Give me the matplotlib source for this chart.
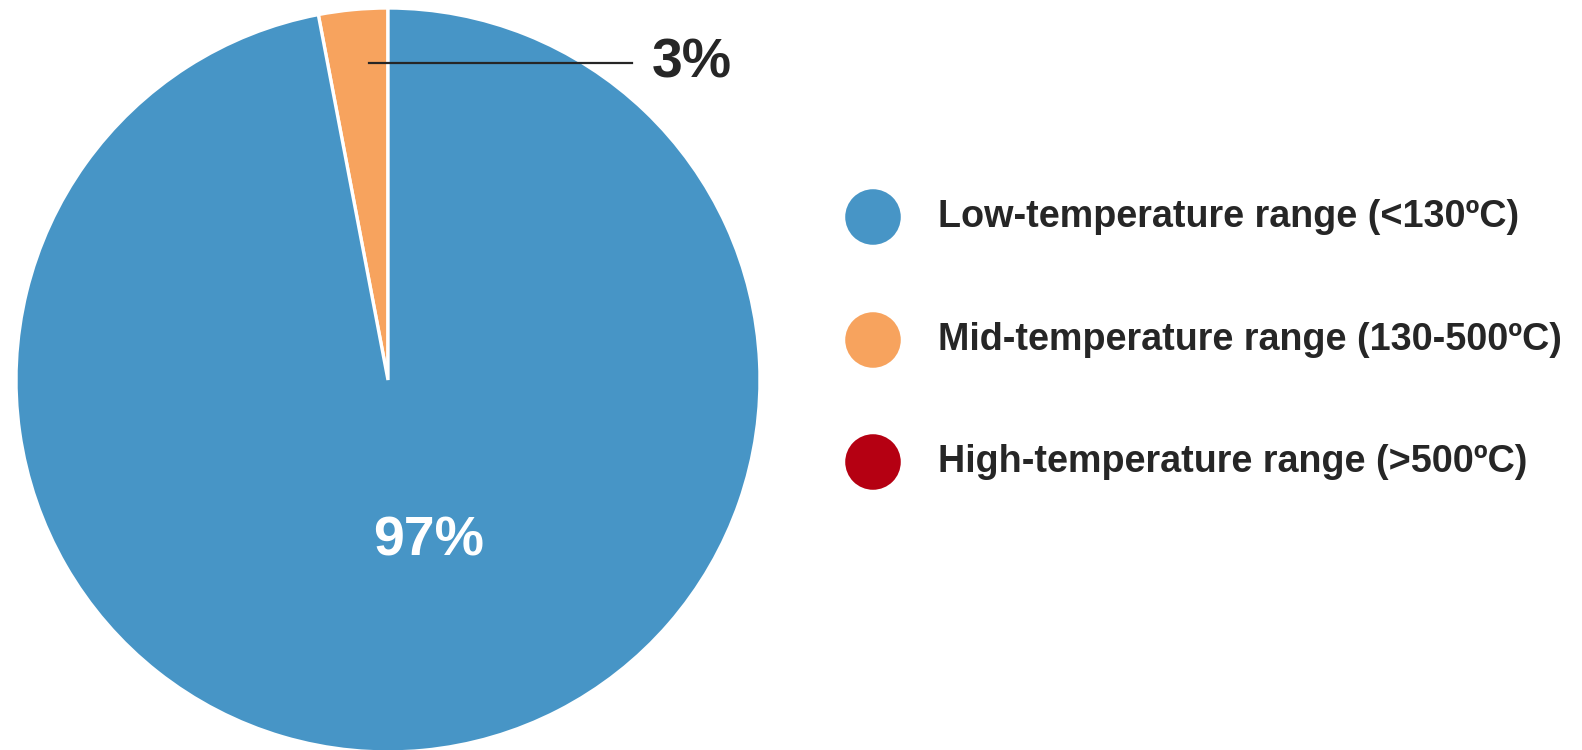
import matplotlib
import matplotlib.pyplot as plt
import numpy as np

matplotlib.use('agg')

# data
categories = ['Low-temperature range (<130ºC)',
              'Mid-temperature range (130-500ºC)',
              'High-temperature range (>500ºC)']
shares = [97, 3, 0]
colors = ['#4795c6', '#f7a35e', '#b50012']
pie_order = [1, 0]  # mid slice first, counterclockwise from the top

TEXT = '#262626'
plt.rcParams['font.family'] = ['Liberation Sans', 'DejaVu Sans']

W, H = 1582, 750
fig = plt.figure(figsize=(W / 100, H / 100), dpi=100)

# pie axes: centre (388, 380) px, radius 372 px
cx, cy, r = 388, 380, 372
ax = fig.add_axes([(cx - r) / W, (H - cy - r) / H, 2 * r / W, 2 * r / H])

vals = [shares[i] for i in pie_order]
cols = [colors[i] for i in pie_order]
wedges, _ = ax.pie(vals, colors=cols, startangle=90, counterclock=True,
                   radius=1, center=(0, 0),
                   wedgeprops=dict(edgecolor='white', linewidth=2.4))
ax.set_xlim(-1, 1)
ax.set_ylim(-1, 1)
ax.set_aspect('equal')
ax.axis('off')

# small slice label with leader line
y0 = 0.852
x0 = -0.051
ax.plot([x0, 0.656], [y0, y0], color=TEXT, lw=1.6, clip_on=False)
ax.text(0.71, y0, f'{shares[1]}%', ha='left', va='center', fontsize=40,
        fontweight='bold', color=TEXT)

# big slice label
ax.text(0.11, -0.435, f'{shares[0]}%', ha='center', va='center',
        fontsize=40, fontweight='bold', color='white')

# legend drawn in pixel space
lax = fig.add_axes([0, 0, 1, 1])
lax.set_xlim(0, W)
lax.set_ylim(H, 0)
lax.axis('off')
ys = [217, 340, 462]
for lab, col, yy in zip(categories, colors, ys):
    lax.scatter([873], [yy], s=40 ** 2, color=col, edgecolors='none')
    lax.text(938, yy, lab, ha='left', va='center', fontsize=27.2,
             fontweight='bold', color=TEXT)

fig.savefig('out.png', dpi=100)
